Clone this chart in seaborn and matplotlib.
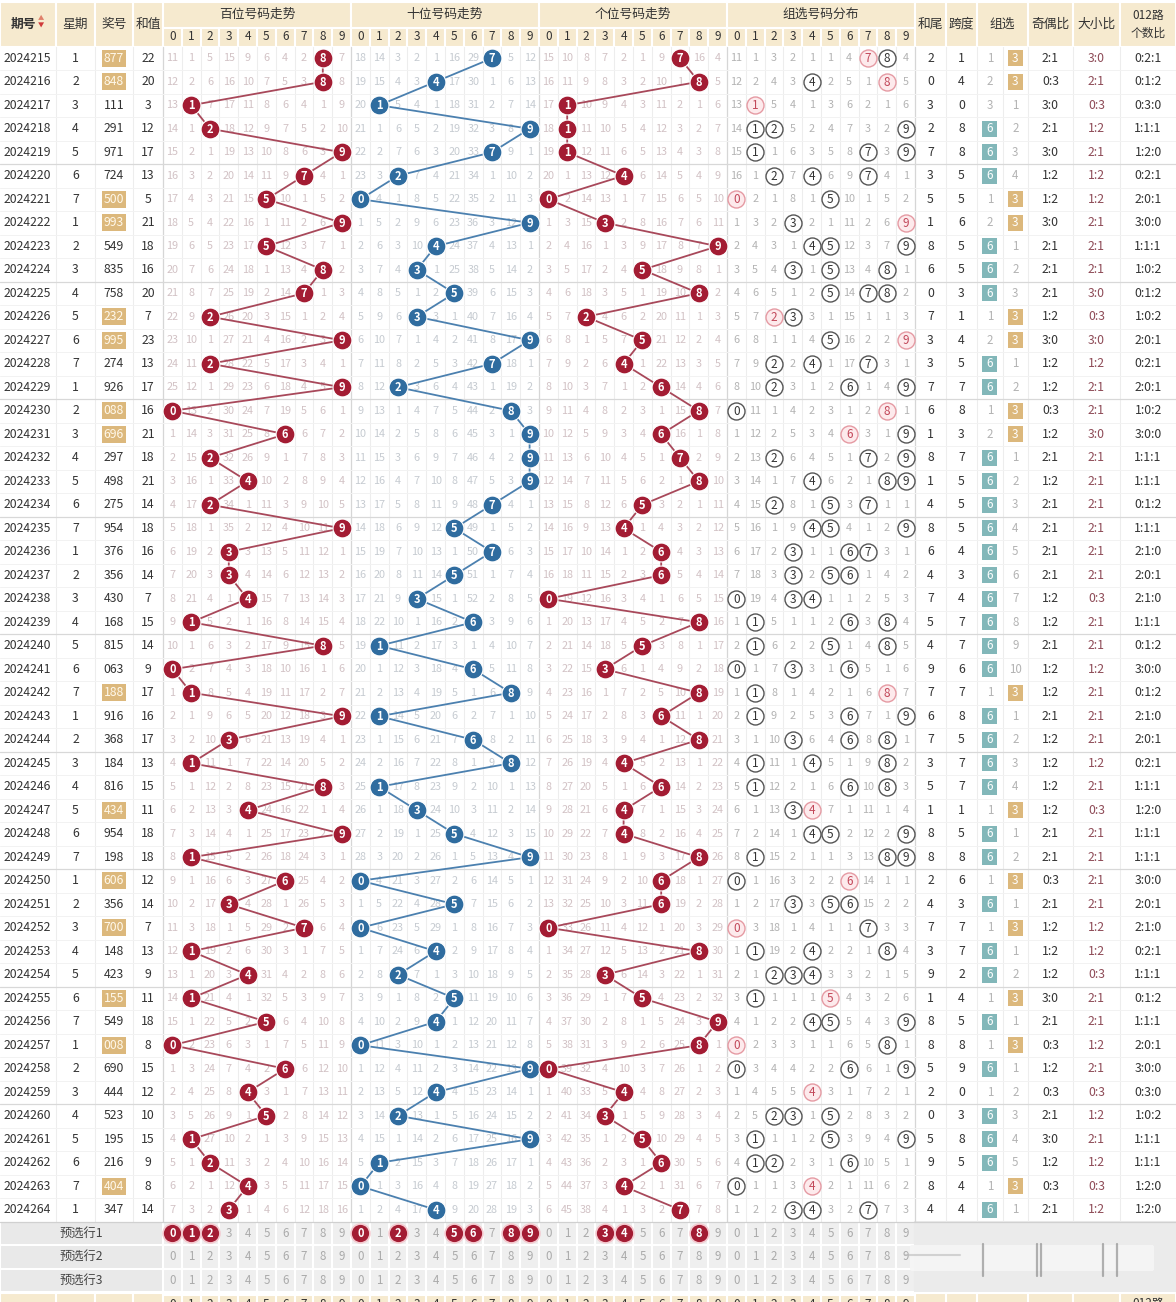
import numpy as np
import pandas as pd
import matplotlib
matplotlib.use("Agg")
import matplotlib.pyplot as plt
from matplotlib.patches import Rectangle, FancyBboxPatch
import seaborn as sns

# ---- data ----
ISSUES = list(range(2024215, 2024265))
WEEKDAYS = [1, 2, 3, 4, 5, 6, 7, 1, 2, 3, 4, 5, 6, 7, 1, 2, 3, 4, 5, 6, 7, 1, 2, 3, 4,
            5, 6, 7, 1, 2, 3, 4, 5, 6, 7, 1, 2, 3, 4, 5, 6, 7, 1, 2, 3, 4, 5, 6, 7, 1]
DRAWS = ["877", "848", "111", "291", "971", "724", "500", "993", "549", "835",
         "758", "232", "995", "274", "926", "088", "696", "297", "498", "275",
         "954", "376", "356", "430", "168", "815", "063", "188", "916", "368",
         "184", "816", "434", "954", "198", "606", "356", "700", "148", "423",
         "155", "549", "008", "690", "444", "523", "195", "216", "404", "347"]
SUMS = [22, 20, 3, 12, 17, 13, 5, 21, 18, 16, 20, 7, 23, 13, 17, 16, 21, 18, 21, 14,
        18, 16, 14, 7, 15, 14, 9, 17, 16, 17, 13, 15, 11, 18, 18, 12, 14, 7, 13, 9,
        11, 18, 8, 15, 12, 10, 15, 9, 8, 14]

# omission values shown on the first row (0 = drawn digit)
FIRST_HUNDREDS = [11, 1, 5, 15, 9, 6, 4, 2, 0, 7]
FIRST_TENS = [18, 14, 3, 2, 1, 16, 29, 0, 5, 12]
FIRST_UNITS = [15, 10, 8, 7, 2, 1, 9, 0, 16, 4]
FIRST_GROUP = [11, 1, 3, 2, 1, 1, 4, 0, 0, 4]
FIRST_G6, FIRST_G3 = 1, 0

PRESET1 = {0: [0, 1, 2], 1: [0, 2, 5, 6, 8, 9], 2: [3, 4, 8]}

SECTION_TITLES = ["百位号码走势", "十位号码走势", "个位号码走势", "组选号码分布"]

# ---- layout (pixels) ----
W, H = 1176, 1302
HEAD_H = 46.5
ROW_H = 23.5
LEFT_EDGES = [0, 56, 95, 133, 163]
SEC_X0 = [163, 351, 539, 727]
SEC_W = 188
RIGHT_EDGES = [915, 946, 977, 1028, 1073, 1120, 1176]
ZX_MID = 1002.5

HEAD_BG = "#f6eacf"
RED = "#a31c33"
BLUE = "#2f6c9f"
RED_LINE = "#a8485a"
BLUE_LINE = "#4b80af"
TXT = "#333333"

n = len(DRAWS)
digits = np.array([[int(c) for c in s] for s in DRAWS])


def cell_x(sec, d):
    return SEC_X0[sec] + (d + 0.5) * SEC_W / 10


def row_y(i):
    return HEAD_H + (i + 0.5) * ROW_H


def omission(first, hits):
    out = np.zeros((n, 10), dtype=int)
    out[0] = first
    for r in range(1, n):
        out[r] = np.where(hits[r], 0, out[r - 1] + 1)
    return out


pos_hits = [np.array([[digits[r, p] == d for d in range(10)] for r in range(n)]) for p in range(3)]
grp_hits = np.array([[d in digits[r] for d in range(10)] for r in range(n)])
omis = [omission(FIRST_HUNDREDS, pos_hits[0]),
        omission(FIRST_TENS, pos_hits[1]),
        omission(FIRST_UNITS, pos_hits[2]),
        omission(FIRST_GROUP, grp_hits)]

kinds = [len(set(s)) for s in DRAWS]  # 3 = 组六, 2 = 组三, 1 = 豹子
g6, g3 = [FIRST_G6], [FIRST_G3]
for r in range(1, n):
    g6.append(0 if kinds[r] == 3 else g6[-1] + 1)
    g3.append(0 if kinds[r] == 2 else g3[-1] + 1)

sns.set_theme(style="white")
plt.rcParams["font.family"] = ["Noto Sans CJK SC", "DejaVu Sans"]

fig = plt.figure(figsize=(W / 100, H / 100), dpi=100)
ax = fig.add_axes([0, 0, 1, 1])
ax.set_xlim(0, W)
ax.set_ylim(H, 0)
ax.axis("off")


def cell(x0, y0, w, h, fc, ec="white", lw=1.5, z=0):
    ax.add_patch(Rectangle((x0, y0), w, h, facecolor=fc, edgecolor=ec, lw=lw, zorder=z))


def header_row(y0, h_top, h_sub, show_titles=True):
    names = ["期号", "星期", "奖号", "和值"]
    for k in range(4):
        cell(LEFT_EDGES[k], y0, LEFT_EDGES[k + 1] - LEFT_EDGES[k], h_top + h_sub, HEAD_BG)
        if show_titles:
            ax.text((LEFT_EDGES[k] + LEFT_EDGES[k + 1]) / 2 - (5 if k == 0 else 0),
                    y0 + (h_top + h_sub) / 2, names[k], ha="center", va="center",
                    fontsize=9.2, color=TXT, fontweight="bold" if k == 0 else "normal")
    for s in range(4):
        if show_titles:
            cell(SEC_X0[s], y0, SEC_W, h_top, HEAD_BG)
            ax.text(SEC_X0[s] + SEC_W / 2, y0 + h_top / 2, SECTION_TITLES[s],
                    ha="center", va="center", fontsize=9.2, color=TXT)
        for d in range(10):
            cx = cell_x(s, d)
            cell(cx - SEC_W / 20, y0 + h_top, SEC_W / 10, h_sub, HEAD_BG)
            ax.text(cx, y0 + h_top + h_sub / 2, str(d), ha="center", va="center",
                    fontsize=8.5, color=TXT)
    rnames = ["和尾", "跨度", "组选", "奇偶比", "大小比", "012路\n个数比"]
    for k in range(6):
        cell(RIGHT_EDGES[k], y0, RIGHT_EDGES[k + 1] - RIGHT_EDGES[k], h_top + h_sub, HEAD_BG)
        if show_titles or k == 5:
            ax.text((RIGHT_EDGES[k] + RIGHT_EDGES[k + 1]) / 2, y0 + (h_top + h_sub) / 2,
                    rnames[k] if show_titles else "012路", ha="center", va="center",
                    fontsize=9.2 if k < 5 else 8.5, color=TXT, linespacing=1.5)


# header
header_row(2, 25.5, 19)
ax.text(41, 18.5, "▲", fontsize=4.5, color="#e0806a", ha="center", va="center")
ax.text(41, 25.5, "▼", fontsize=4.5, color="#d03a3a", ha="center", va="center")

# body grid
body_top, body_bot = HEAD_H, HEAD_H + n * ROW_H
vlines = LEFT_EDGES[1:4] + [SEC_X0[s] + k * SEC_W / 10 for s in range(4) for k in range(1, 10)]
vlines += RIGHT_EDGES[1:6] + [ZX_MID]
for x in vlines:
    ax.plot([x, x], [body_top, body_bot], color="#ededed", lw=0.8, zorder=1)
for x in SEC_X0 + [RIGHT_EDGES[0]]:
    ax.plot([x, x], [body_top, body_bot], color="#d6d6d6", lw=0.9, zorder=1)
for r in range(1, n):
    y = HEAD_H + r * ROW_H
    ax.plot([0, W], [y, y], color="#d8d8d8" if r % 5 == 0 else "#f2f2f2",
            lw=0.9 if r % 5 == 0 else 0.7, zorder=1)
ax.plot([0, W], [body_bot, body_bot], color="#d0d0d0", lw=0.9, zorder=1)

# left columns
lc = [(LEFT_EDGES[k] + LEFT_EDGES[k + 1]) / 2 for k in range(4)]
for r in range(n):
    y = row_y(r)
    ax.text(lc[0] - 1, y, str(ISSUES[r]), ha="center", va="center", fontsize=8.8, color=TXT)
    ax.text(lc[1], y, str(WEEKDAYS[r]), ha="center", va="center", fontsize=8.8, color=TXT)
    if kinds[r] == 2:
        cell(lc[2] - 12, y - 8.5, 24, 17, "#dcb87c", ec="none", lw=0, z=2)
        ax.text(lc[2], y, DRAWS[r], ha="center", va="center", fontsize=8.8, color="#fff8ea", zorder=3)
    else:
        ax.text(lc[2], y, DRAWS[r], ha="center", va="center", fontsize=8.8, color=TXT)
    ax.text(lc[3], y, str(SUMS[r]), ha="center", va="center", fontsize=8.8, color=TXT)

# omission numbers
omis_col = ["#d2c2c5", "#c6cbd1", "#d2c2c5", "#b3b3b3"]
for s in range(4):
    for r in range(n):
        for d in range(10):
            v = omis[s][r, d]
            if v > 0:
                ax.text(cell_x(s, d), row_y(r), str(v), ha="center", va="center",
                        fontsize=7.8, color=omis_col[s], zorder=2)

# trend lines and balls
for p, (bc, lcol) in enumerate([(RED, RED_LINE), (BLUE, BLUE_LINE), (RED, RED_LINE)]):
    tr = pd.DataFrame({"x": [cell_x(p, d) for d in digits[:, p]],
                       "y": [row_y(r) for r in range(n)],
                       "digit": digits[:, p]})
    sns.lineplot(data=tr, x="x", y="y", sort=False, estimator=None, color=lcol,
                 lw=1.3, ax=ax, zorder=3, legend=False)
    sns.scatterplot(data=tr, x="x", y="y", s=185, color=bc, edgecolor="white",
                    linewidth=0.8, ax=ax, zorder=4, legend=False)
    for x, y, dg in zip(tr.x, tr.y, tr.digit):
        ax.text(x, y + 0.5, str(int(dg)), ha="center", va="center",
                fontsize=8, color="white", fontweight="bold", zorder=5)

# group distribution circles
grp = pd.DataFrame([{"x": cell_x(3, d), "y": row_y(r), "digit": d,
                     "double": int(np.sum(digits[r] == d)) >= 2}
                    for r in range(n) for d in range(10) if grp_hits[r, d]])
singles, doubles = grp[~grp.double], grp[grp.double]
sns.scatterplot(data=singles, x="x", y="y", s=150, facecolor="white", edgecolor="#555555",
                linewidth=1.0, ax=ax, zorder=4, legend=False)
sns.scatterplot(data=doubles, x="x", y="y", s=150, facecolor="#fdeaec", edgecolor="#e59aa3",
                linewidth=1.0, ax=ax, zorder=4, legend=False)
for x, y, dg, dbl in zip(grp.x, grp.y, grp.digit, grp.double):
    ax.text(x, y + 0.3, str(int(dg)), ha="center", va="center", fontsize=8.5,
            color="#c2485a" if dbl else "#333333", zorder=5)

# right columns
rc = [(RIGHT_EDGES[k] + RIGHT_EDGES[k + 1]) / 2 for k in range(6)]
zx6, zx3 = (RIGHT_EDGES[2] + ZX_MID) / 2, (ZX_MID + RIGHT_EDGES[3]) / 2
for r in range(n):
    y = row_y(r)
    dg = digits[r]
    ax.text(rc[0], y, str(SUMS[r] % 10), ha="center", va="center", fontsize=8.8, color=TXT)
    ax.text(rc[1], y, str(dg.max() - dg.min()), ha="center", va="center", fontsize=8.8, color=TXT)
    if kinds[r] == 3:
        cell(zx6 - 7.5, y - 8, 15, 16, "#82b7b9", ec="none", lw=0, z=2)
        ax.text(zx6, y, "6", ha="center", va="center", fontsize=8.5, color="white", zorder=3)
    else:
        ax.text(zx6, y, str(g6[r]), ha="center", va="center", fontsize=8.3, color="#b3b3b3")
    if kinds[r] == 2:
        cell(zx3 - 7.5, y - 8, 15, 16, "#dcb87c", ec="none", lw=0, z=2)
        ax.text(zx3, y, "3", ha="center", va="center", fontsize=8.5, color="white", zorder=3)
    else:
        ax.text(zx3, y, str(g3[r]), ha="center", va="center", fontsize=8.3, color="#b3b3b3")
    odd = int(np.sum(dg % 2))
    big = int(np.sum(dg >= 5))
    m3 = [int(np.sum(dg % 3 == k)) for k in range(3)]
    ax.text(rc[3], y, f"{odd}:{3 - odd}", ha="center", va="center", fontsize=8.8, color=TXT)
    ax.text(rc[4], y, f"{big}:{3 - big}", ha="center", va="center", fontsize=8.8, color="#8e4b57")
    ax.text(rc[5], y, f"{m3[0]}:{m3[1]}:{m3[2]}", ha="center", va="center", fontsize=8.8, color=TXT)

# preset rows
for k in range(3):
    y0 = body_bot + k * ROW_H
    cell(0, y0, 163, ROW_H, "#e9e9e9")
    ax.text(81, y0 + ROW_H / 2, f"预选行{k + 1}", ha="center", va="center", fontsize=8.8, color="#444444")
    for s in range(4):
        for d in range(10):
            cx = cell_x(s, d)
            cell(cx - SEC_W / 20, y0, SEC_W / 10, ROW_H, "#efefef")
    cell(RIGHT_EDGES[0], y0, W - RIGHT_EDGES[0], ROW_H, "#ebebeb", ec="#ebebeb")
pre = pd.DataFrame([{"x": cell_x(s, d), "y": body_bot + ROW_H / 2, "digit": d}
                    for s, ds in PRESET1.items() for d in ds])
for k in range(3):
    for s in range(4):
        for d in range(10):
            if k == 0 and d in PRESET1.get(s, []):
                continue
            ax.text(cell_x(s, d), body_bot + (k + 0.5) * ROW_H, str(d), ha="center",
                    va="center", fontsize=8.3, color="#aaaaaa", zorder=2)
sns.scatterplot(data=pre, x="x", y="y", s=185, color=RED, edgecolor="#f4c9cf",
                linewidth=1.2, ax=ax, zorder=4, legend=False)
for x, y, dg in zip(pre.x, pre.y, pre.digit):
    ax.text(x, y + 0.5, str(int(dg)), ha="center", va="center", fontsize=8,
            color="white", fontweight="bold", zorder=5)

# faint screen overlay on the preset area
ax.add_patch(FancyBboxPatch((912, 1247), 240, 22, boxstyle="round,pad=2",
                            facecolor="#f6f6f6", edgecolor="none", alpha=0.9, zorder=6))
for x in [983, 1037, 1041, 1103, 1117]:
    ax.plot([x, x], [1244, 1276], color="#777777", lw=1.6, alpha=0.55, zorder=7)
ax.plot([905, 960], [1255, 1255], color="#bbbbbb", lw=1.5, alpha=0.6, zorder=7)

# bottom repeated header (cut off)
header_row(body_bot + 3 * ROW_H + 1, 2, 18, show_titles=False)

fig.savefig("out.png", dpi=100)
